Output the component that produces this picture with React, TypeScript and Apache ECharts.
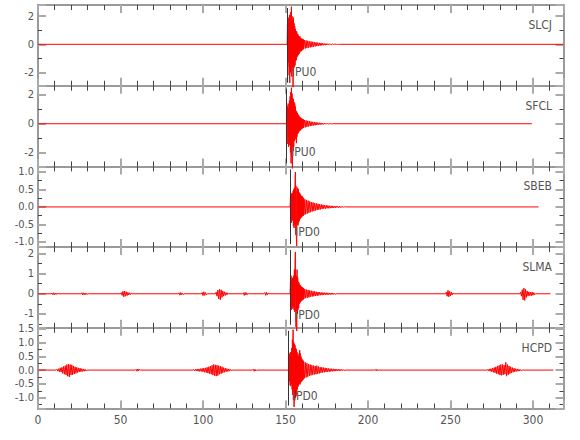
import React, { useEffect, useRef } from "react";
import * as echarts from "echarts";

// ---------- station metadata ----------
const stations = ["SLCJ", "SFCL", "SBEB", "SLMA", "HCPD"];
const pickLabels = ["IPU0", "IPU0", "IPD0", "IPD0", "IPD0"];
const pickTimes = [151.1, 150.7, 153.1, 153.1, 151.7];
const pickTextY = [-2.0, -1.96, -0.72, -1.04, -0.93];
const traceEnds = [318.5, 299.3, 303.4, 310.6, 312.4];
const yMins = [-2.95, -2.96, -1.15, -1.69, -1.39];
const yMaxs = [2.8, 2.64, 1.16, 2.32, 1.53];
const ySplits = [3, 3, 4, 3, 5];
const yLabelSteps = [2, 2, 0.5, 1, 0.5];
const yDecimals = [0, 0, 1, 0, 1];
const xMin = 0;
const xMax = 318.5;
const xInterval = 50;

// sample intervals (s)
const fastDt = 0.2;
const codaDt = 0.5;
const burstDt = 0.5;

// ---------- SLCJ ----------
const slcjFastStart = 151.0;
const slcjFast = [0.0, 1.5, -1.6, 1.7, -1.3, 1.9, -2.2, 2.1, -2.75, 1.6, -2.0, 2.3, -1.8, 2.68, -2.3, 2.0, -1.9, 1.7, -3.05, 1.9, -1.7, 1.5, -1.6, 1.3, -1.5, 1.1, -1.2, 0.95, -1.1, 0.9, -0.9, 0.75, -0.85, 0.7, -0.75, 0.6, -0.7, 0.55, -0.6, 0.55, -0.5, 0.45, -0.5, 0.4, -0.45, 0.4, -0.4, 0.35, -0.38, 0.35];
const slcjCodaStart = 161.0;
const slcjCoda = [-0.33, 0.3, -0.3, 0.28, -0.27, 0.25, -0.24, 0.22, -0.22, 0.2, -0.2, 0.18, -0.18, 0.16, -0.15, 0.14, -0.13, 0.12, -0.12, 0.1, -0.1, 0.09, -0.08, 0.08, -0.07, 0.06, -0.06, 0.05, -0.05, 0.04, -0.04, 0.035, -0.03, 0.03, -0.03, 0.025, -0.02, 0.02, -0.02, 0.015, -0.015, 0.01, -0.01, 0.01, -0.01, 0.0];

// ---------- SFCL ----------
const sfclFastStart = 151.0;
const sfclFast = [0.0, 1.2, -1.4, 1.4, -1.6, 1.1, -1.3, 1.6, -1.5, 1.9, -2.0, 2.2, -2.75, 2.5, -2.3, 2.1, -3.1, 1.8, -1.9, 1.7, -1.6, 1.5, -1.2, 1.4, -1.1, 1.2, -1.0, 0.9, -1.35, 0.85, -0.9, 0.75, -0.7, 0.65, -0.65, 0.6, -0.55, 0.5, -0.5, 0.45, -0.45, 0.42, -0.4, 0.38, -0.36, 0.35, -0.33, 0.32, -0.3, 0.3];
const sfclCodaStart = 161.0;
const sfclCoda = [-0.28, 0.26, -0.25, 0.23, -0.22, 0.2, -0.19, 0.18, -0.16, 0.15, -0.14, 0.13, -0.12, 0.12, -0.11, 0.1, -0.09, 0.08, -0.08, 0.07, -0.06, 0.06, -0.05, 0.05, -0.04, 0.04, -0.03, 0.03, -0.03, 0.02, -0.02, 0.02, -0.02, 0.01, -0.01, 0.0];

// ---------- SBEB ----------
const sbebFastStart = 152.8;
const sbebFast = [0.0, 0.25, -0.3, 0.4, -0.45, 0.35, -0.4, 0.38, -0.35, 0.45, -0.55, 0.5, -0.6, 0.55, -0.5, 0.75, 1.0, -0.8, 0.6, -0.9, -1.12, 0.45, -0.5, 0.55, -0.53, 0.5, -0.45, 0.42, -0.4, 0.4, -0.35, 0.36, -0.32, 0.33, -0.3, 0.3, -0.28, 0.3, -0.26, 0.27, -0.25, 0.25];
const sbebCodaStart = 161.2;
const sbebCoda = [-0.23, 0.22, -0.21, 0.2, -0.19, 0.18, -0.17, 0.16, -0.15, 0.14, -0.13, 0.13, -0.12, 0.11, -0.1, 0.1, -0.09, 0.09, -0.08, 0.08, -0.07, 0.07, -0.06, 0.06, -0.05, 0.05, -0.05, 0.045, -0.04, 0.04, -0.04, 0.035, -0.035, 0.03, -0.03, 0.03, -0.03, 0.025, -0.025, 0.025, -0.02, 0.02, -0.02, 0.02, -0.02, 0.015, -0.015, 0.015, -0.01, 0.01, -0.01, 0.01, 0.0];

// ---------- SLMA ----------
const slmaFastStart = 152.8;
const slmaFast = [0.0, 0.6, -0.5, 0.9, -0.8, 0.7, -0.75, 0.8, -0.6, 0.75, -0.7, 0.9, -0.8, 1.2, -0.9, 1.6, 2.08, -1.2, -1.65, 0.9, -1.85, 1.2, -1.0, 0.8, -0.8, 0.6, -0.7, 0.55, -0.5, 0.45, -0.45, 0.42, -0.4, 0.38, -0.36, 0.34, -0.33, 0.32, -0.3, 0.3, -0.28, 0.27];
const slmaCodaStart = 161.2;
const slmaCoda = [-0.25, 0.24, -0.22, 0.21, -0.2, 0.19, -0.18, 0.17, -0.15, 0.15, -0.14, 0.13, -0.12, 0.12, -0.11, 0.1, -0.1, 0.09, -0.08, 0.08, -0.07, 0.07, -0.065, 0.06, -0.06, 0.055, -0.05, 0.05, -0.05, 0.045, -0.045, 0.04, -0.04, 0.04, -0.035, 0.035, -0.03, 0.03, -0.03, 0.0];
const slmaBursts: [number, number[]][] = [
  [8, [0, 0.04, -0.05, 0.05, -0.04, 0.03, -0.04, 0.03, 0]],
  [26, [0, 0.05, -0.06, 0.05, -0.05, 0.04, -0.04, 0.03, -0.03, 0]],
  [50, [0, 0.06, -0.08, 0.12, -0.15, 0.14, -0.12, 0.1, -0.09, 0.07, -0.06, 0.05, -0.04, 0.03, 0]],
  [85, [0, 0.05, -0.07, 0.06, -0.05, 0.04, -0.04, 0]],
  [99, [0, 0.06, -0.09, 0.1, -0.08, 0.06, -0.05, 0]],
  [107.5, [0, 0.08, -0.12, 0.18, -0.25, 0.22, -0.3, 0.2, -0.18, 0.14, -0.12, 0.1, -0.08, 0.06, -0.05, 0.04, 0]],
  [124, [0, 0.05, -0.08, 0.07, -0.06, 0.05, -0.04, 0]],
  [137, [0, 0.06, -0.08, 0.07, -0.06, 0.04, 0]],
  [247, [0, 0.08, -0.12, 0.17, -0.15, 0.12, -0.1, 0.08, -0.06, 0.04, 0]],
  [292, [0, 0.08, -0.12, 0.2, -0.3, 0.28, -0.33, 0.22, -0.18, 0.14, -0.12, 0.1, -0.09, 0.08, -0.1, 0.09, -0.07, 0.06, -0.05, 0]],
];

// ---------- HCPD ----------
const hcpdFastStart = 152.0;
const hcpdFast = [0.0, 0.45, -0.4, 0.6, -0.55, 0.65, -0.58, 0.5, -0.5, 0.8, -0.7, 1.1, -0.9, 1.46, -1.07, 1.0, -1.33, 0.95, -1.1, 0.9, -1.0, 0.8, -0.95, 0.75, -0.9, 0.65, -0.7, 0.55, -0.6, 0.5, -0.55, 0.6, -0.5, 0.72, -0.52, 0.6, -0.45, 0.5, -0.42, 0.42, -0.4, 0.38, -0.36, 0.35, -0.34];
const hcpdCodaStart = 161.0;
const hcpdCoda = [0.32, -0.3, 0.28, -0.27, 0.25, -0.24, 0.22, -0.21, 0.2, -0.19, 0.18, -0.17, 0.16, -0.16, 0.15, -0.15, 0.16, -0.14, 0.13, -0.12, 0.11, -0.1, 0.1, -0.09, 0.09, -0.08, 0.08, -0.07, 0.07, -0.06, 0.06, -0.06, 0.05, -0.05, 0.05, -0.045, 0.045, -0.04, 0.04, -0.035, 0.035, -0.03, 0.03, -0.03, 0.03, -0.025, 0.025, -0.02, 0.02, -0.02, 0.0];
const hcpdBursts: [number, number[]][] = [
  [11, [0, 0.03, -0.04, 0.05, -0.06, 0.08, -0.07, 0.1, -0.12, 0.13, -0.15, 0.16, -0.18, 0.2, -0.22, 0.21, -0.25, 0.2, -0.18, 0.19, -0.17, 0.15, -0.14, 0.12, -0.12, 0.1, -0.09, 0.08, -0.07, 0.07, -0.06, 0.05, -0.05, 0.04, -0.04, 0.03, -0.03, 0]],
  [59, [0, 0.03, -0.04, 0.04, -0.03, 0.03, 0]],
  [94, [0, 0.02, -0.03, 0.03, -0.03, 0.04, -0.04, 0.04, -0.05, 0.05, -0.05, 0.06, -0.06, 0.07, -0.08, 0.08, -0.09, 0.1, -0.11, 0.12, -0.13, 0.14, -0.15, 0.17, -0.18, 0.2, -0.2, 0.19, -0.22, 0.18, -0.2, 0.16, -0.15, 0.14, -0.13, 0.12, -0.1, 0.09, -0.08, 0.07, -0.06, 0.05, -0.05, 0.04, -0.04, 0.03, -0.02, 0]],
  [130, [0, 0.03, -0.04, 0.03, -0.03, 0]],
  [204, [0, 0.02, -0.03, 0.03, -0.02, 0]],
  [272, [0, 0.02, -0.03, 0.04, -0.04, 0.05, -0.06, 0.07, -0.08, 0.09, -0.1, 0.12, -0.13, 0.15, -0.15, 0.17, -0.18, 0.2, -0.19, 0.2, -0.17, 0.18, -0.15, 0.28, -0.22, 0.2, -0.17, 0.15, -0.13, 0.12, -0.1, 0.09, -0.08, 0.07, -0.06, 0.05, -0.05, 0.04, -0.04, 0.03, -0.03, 0.02, -0.02, 0]],
];

// ---------- build traces ----------
type Seg = [number, number, number[]];
function buildTrace(end: number, segs: Seg[]) {
  const pts: number[][] = [[0, 0]];
  segs.forEach(([t0, dt, vals]) => {
    vals.forEach((v, i) => pts.push([Math.round((t0 + i * dt) * 1000) / 1000, v]));
  });
  pts.push([end, 0]);
  pts.sort((a, b) => a[0] - b[0]);
  return pts;
}

const traces = [
  buildTrace(traceEnds[0], [[slcjFastStart, fastDt, slcjFast], [slcjCodaStart, codaDt, slcjCoda]]),
  buildTrace(traceEnds[1], [[sfclFastStart, fastDt, sfclFast], [sfclCodaStart, codaDt, sfclCoda]]),
  buildTrace(traceEnds[2], [[sbebFastStart, fastDt, sbebFast], [sbebCodaStart, codaDt, sbebCoda]]),
  buildTrace(traceEnds[3], [
    [slmaFastStart, fastDt, slmaFast],
    [slmaCodaStart, codaDt, slmaCoda],
    ...slmaBursts.map(([t0, v]) => [t0, burstDt, v] as Seg),
  ]),
  buildTrace(traceEnds[4], [
    [hcpdFastStart, fastDt, hcpdFast],
    [hcpdCodaStart, codaDt, hcpdCoda],
    ...hcpdBursts.map(([t0, v]) => [t0, burstDt, v] as Seg),
  ]),
];

// ---------- layout / style ----------
const W = 580;
const H = 440;
const LEFT = 38;
const RIGHT = 16.5;
const TOP0 = 5;
const PANEL_H = 80.7;
const FONT = "'Liberation Sans Narrow', 'DejaVu Sans Condensed', 'Liberation Sans', sans-serif";
const FS = 11;
const FRAME = "#9a9a9a";
const MAJOR = "#aaaaaa";
const MINOR = "#444444";
const TEXT = "#555555";
const TRACE = "#ff0000";

export default function App() {
  const ref = useRef<HTMLDivElement>(null);

  useEffect(() => {
    document.body.style.margin = "0";
    if (!ref.current) return;
    const chart = echarts.init(ref.current, undefined, { renderer: "svg" });

    const grids: any[] = [];
    const xAxes: any[] = [];
    const yAxes: any[] = [];
    const series: any[] = [];
    const graphics: any[] = [];

    stations.forEach((name, i) => {
      const top = TOP0 + i * PANEL_H;
      grids.push({ left: LEFT, right: RIGHT, top, height: PANEL_H });
      const isLast = i === stations.length - 1;
      const xBase = (pos: string, labels: boolean) => ({
        type: "value",
        gridIndex: i,
        position: pos,
        min: xMin,
        max: xMax,
        interval: xInterval,
        axisLine: { show: true, onZero: false, lineStyle: { color: FRAME, width: 2 } },
        axisTick: { show: true, inside: true, length: 8, lineStyle: { color: MAJOR, width: 2 } },
        minorTick: { show: true, splitNumber: 5, length: 5, lineStyle: { color: MINOR, width: 1 } },
        axisLabel: {
          show: labels,
          color: TEXT,
          fontSize: 12,
          fontFamily: FONT,
          margin: 5,
          formatter: (v: number) => (Math.abs(v / xInterval - Math.round(v / xInterval)) < 1e-6 ? String(v) : ""),
        },
        splitLine: { show: false },
      });
      xAxes.push(xBase("bottom", isLast));
      xAxes.push(xBase("top", false));

      const step = yLabelSteps[i];
      const dec = yDecimals[i];
      const yBase = (pos: string, labels: boolean) => ({
        type: "value",
        gridIndex: i,
        position: pos,
        min: yMins[i],
        max: yMaxs[i],
        splitNumber: ySplits[i],
        axisLine: { show: true, onZero: false, lineStyle: { color: FRAME, width: 2 } },
        axisTick: { show: true, inside: true, length: 8, lineStyle: { color: MAJOR, width: 2 } },
        minorTick: { show: true, splitNumber: 2, length: 4, lineStyle: { color: MINOR, width: 1 } },
        axisLabel: {
          show: labels,
          color: TEXT,
          fontSize: FS,
          lineHeight: 9,
          fontFamily: FONT,
          margin: 4,
          formatter: (v: number) =>
            Math.abs(v / step - Math.round(v / step)) < 1e-6 ? v.toFixed(dec) : "",
        },
        splitLine: { show: false },
      });
      yAxes.push(yBase("left", true));
      yAxes.push(yBase("right", false));

      const inset = (3 / PANEL_H) * (yMaxs[i] - yMins[i]);
      series.push({
        type: "line",
        name,
        xAxisIndex: 2 * i,
        yAxisIndex: 2 * i,
        data: traces[i],
        showSymbol: false,
        symbol: "none",
        clip: false,
        lineStyle: { color: TRACE, width: 1 },
        silent: true,
        markLine: {
          silent: true,
          symbol: ["none", "none"],
          label: { show: false },
          lineStyle: { color: "#333333", width: 1, type: "solid" },
          data: [[
            { coord: [pickTimes[i], yMins[i] + inset] },
            { coord: [pickTimes[i], yMaxs[i] - inset] },
          ]],
        },
        markPoint: {
          silent: true,
          symbol: "circle",
          symbolSize: 1,
          itemStyle: { color: "rgba(0,0,0,0)" },
          label: {
            show: true,
            position: "right",
            distance: 4,
            formatter: pickLabels[i],
            color: TEXT,
            fontSize: 12,
            fontFamily: FONT,
          },
          data: [{ coord: [pickTimes[i], pickTextY[i]] }],
        },
      });

      graphics.push({
        type: "text",
        right: 28,
        top: top + 14,
        style: { text: name, fill: TEXT, fontSize: 12, fontFamily: FONT },
        silent: true,
      });
    });

    chart.setOption({
      animation: false,
      backgroundColor: "#ffffff",
      grid: grids,
      xAxis: xAxes,
      yAxis: yAxes,
      series,
      graphic: graphics,
    });

    return () => chart.dispose();
  }, []);

  return <div ref={ref} style={{ width: W, height: H }} />;
}
